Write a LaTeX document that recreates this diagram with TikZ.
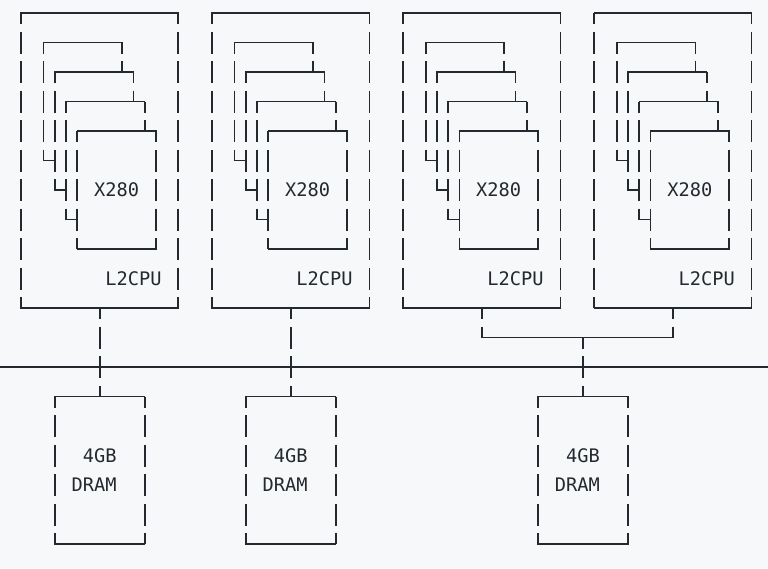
\documentclass[tikz,border=0pt]{standalone}
\usepackage{fontspec}
\setmonofont{DejaVu Sans Mono}
\usepackage{tikz}

\definecolor{wire}{HTML}{24292F}
\definecolor{paper}{HTML}{F6F8FA}

\tikzset{
  hwire/.style={draw=wire, line width=1pt, line cap=rect},
  vwire/.style={draw=wire, line width=1.3pt, dash pattern=on 16.5pt off 5.625pt, dash phase=8.25pt},
  txt/.style={font=\fontsize{14pt}{16pt}\selectfont\ttfamily, text=wire, inner sep=0pt}
}

% box of text-art lines: name, left col, top row, right col, bottom row
\newcommand{\asciibox}[5]{%
  \coordinate (#1-nw) at (#2,-#3); \coordinate (#1-ne) at (#4,-#3);
  \coordinate (#1-sw) at (#2,-#5); \coordinate (#1-se) at (#4,-#5);
  \coordinate (#1-n) at ({(#2+#4)/2},-#3); \coordinate (#1-s) at ({(#2+#4)/2},-#5);
  \draw[hwire] (#1-nw) -- (#1-ne);
  \draw[hwire] (#1-sw) -- (#1-se);
  \draw[vwire] (#1-nw) -- (#1-sw);
  \draw[vwire] (#1-ne) -- (#1-se);
}

\begin{document}
\begin{tikzpicture}[x=8.43pt, y=22.125pt]
        \fill[paper] (-1.868,0.4407) rectangle (66.459,-18.814);
        \useasboundingbox (-1.868,0.4407) rectangle (66.459,-18.814);
        % L2CPU clusters
        \foreach \c/\n in {0/1,17/2,34/3,51/4} {
            \asciibox{cpu\n}{\c}{0}{\c+14}{10}
            % stacked cards behind the front X280
            \foreach \k in {0,1,2} {
                \draw[hwire] (\c+2+\k,-1-\k) -- (\c+9+\k,-1-\k);
                \draw[vwire] (\c+9+\k,-1-\k) -- (\c+9+\k,-2-\k);
                \draw[vwire] (\c+2+\k,-1-\k) -- (\c+2+\k,-5-\k);
                \draw[hwire] (\c+2+\k,-5-\k) -- (\c+3+\k,-5-\k);
            }
            \asciibox{core\n}{\c+5}{4}{\c+12}{8}
            \node[txt] (x280\n) at (\c+8.5,-6) {X280};
            \node[txt] (l2\n) at (\c+10,-9) {L2CPU};
        }
        % memory
        \foreach \d/\n in {3/1,20/2,46/3} {
            \asciibox{dram\n}{\d}{13}{\d+8}{18}
            \node[txt] (gb\n) at (\d+4,-15) {4GB};
            \node[txt] (mem\n) at (\d+3.5,-16) {DRAM};
        }
        % bus
        \coordinate (busL) at (-1.868,-12);
        \coordinate (busR) at (66.459,-12);
        \draw[hwire, line cap=butt] (busL) -- (busR);
        % links
        \coordinate (join3) at (41,-11);
        \coordinate (join4) at (58,-11);
        \coordinate (joinm) at (50,-11);
        \draw[vwire] (cpu1-s) -- (dram1-n);
        \draw[vwire] (cpu2-s) -- (dram2-n);
        \draw[vwire] (cpu3-s) -- (join3);
        \draw[vwire] (cpu4-s) -- (join4);
        \draw[hwire] (join3) -- (join4);
        \draw[vwire] (joinm) -- (dram3-n);
    \end{tikzpicture}
\end{document}
